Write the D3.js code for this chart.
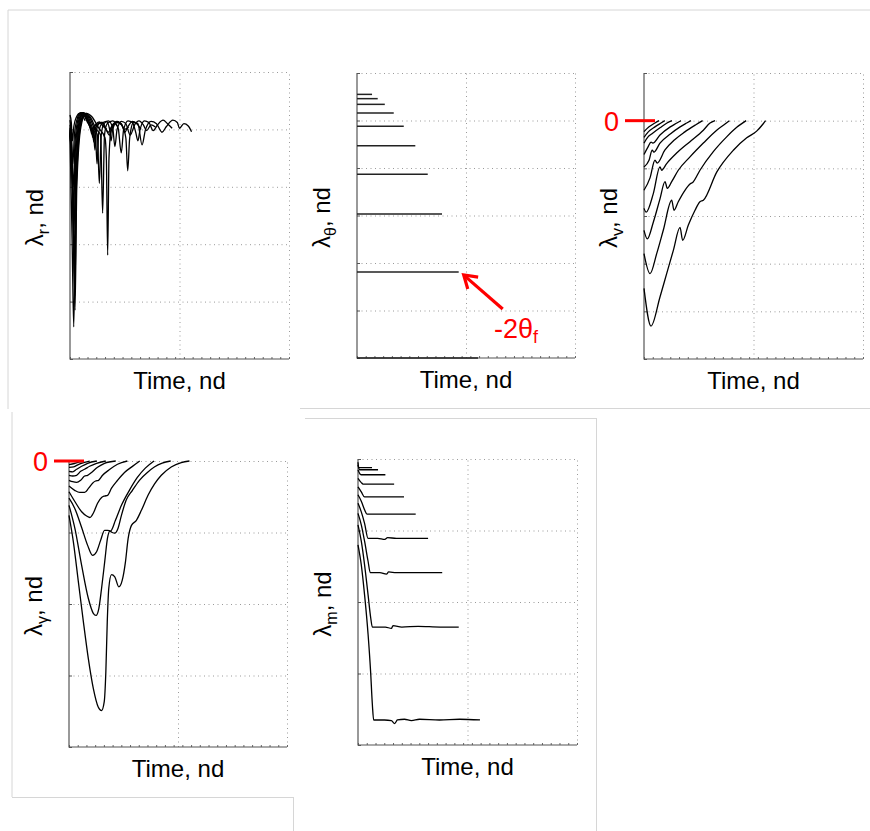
<!DOCTYPE html>
<html><head><meta charset="utf-8">
<script src="https://cdn.jsdelivr.net/npm/d3@7"></script>
<style>
body{margin:0;background:#fff;}
svg{display:block;}
text{font-family:"Liberation Sans",Arial,Helvetica,sans-serif;}
</style>
</head><body>
<svg id="chart" width="870" height="831"></svg>
<script>
// ---------------- DATA ----------------
const timeDomain = [0, 2];
const timeGrid = [1];
const finalTimes = [0.138, 0.19, 0.255, 0.337, 0.429, 0.535, 0.649, 0.78, 0.933, 1.11];

// lambda_r : [t, value]
const lambdaR = [
  [[0,0.25],[0.012,0.12],[0.022,-0.2],[0.035,0.05],[0.06,0.22],[0.085,0.28],[0.11,0.25],[0.138,0.15]],
  [[0,0.16],[0.012,-0.05],[0.026,-0.6],[0.04,-0.1],[0.065,0.18],[0.095,0.29],[0.13,0.24],[0.16,0.12],[0.19,0.04]],
  [[0,0.08],[0.015,-0.3],[0.03,-1.0],[0.045,-0.25],[0.07,0.15],[0.105,0.29],[0.14,0.22],[0.175,0.08],[0.19,-0.02],[0.198,-0.08],[0.206,-0.02],[0.23,0.08],[0.255,0.05]],
  [[0,0.03],[0.017,-0.5],[0.033,-1.4],[0.048,-0.4],[0.075,0.12],[0.115,0.29],[0.15,0.2],[0.18,0.05],[0.198,-0.03],[0.208,-0.14],[0.218,-0.02],[0.24,0.1],[0.27,0.13],[0.3,0.06],[0.337,0.0]],
  [[0,0.0],[0.018,-0.6],[0.036,-1.8],[0.052,-0.5],[0.08,0.1],[0.12,0.29],[0.155,0.2],[0.19,0.02],[0.205,-0.04],[0.218,-0.22],[0.23,-0.03],[0.255,0.1],[0.29,0.12],[0.32,0.03],[0.35,-0.05],[0.38,0.05],[0.41,0.1],[0.429,0.06]],
  [[0,-0.02],[0.02,-0.8],[0.04,-2.2],[0.055,-0.7],[0.085,0.08],[0.125,0.29],[0.165,0.18],[0.2,0.0],[0.215,-0.06],[0.228,-0.36],[0.24,-0.04],[0.265,0.1],[0.3,0.12],[0.33,0.0],[0.36,-0.1],[0.39,0.05],[0.43,0.12],[0.47,0.08],[0.5,0.0],[0.535,0.04]],
  [[0,-0.04],[0.022,-0.9],[0.042,-2.6],[0.058,-0.8],[0.09,0.05],[0.13,0.28],[0.17,0.2],[0.21,0.0],[0.232,-0.08],[0.247,-0.6],[0.262,-0.06],[0.29,0.1],[0.33,0.14],[0.36,0.02],[0.375,-0.2],[0.39,0.0],[0.43,0.13],[0.47,0.1],[0.5,-0.05],[0.53,0.05],[0.57,0.14],[0.61,0.1],[0.649,0.0]],
  [[0,-0.06],[0.024,-1.0],[0.044,-2.9],[0.06,-0.9],[0.095,0.05],[0.14,0.28],[0.18,0.2],[0.225,0.0],[0.25,-0.1],[0.268,-0.94],[0.285,-0.1],[0.31,0.1],[0.35,0.15],[0.39,0.03],[0.41,-0.3],[0.43,0.0],[0.47,0.14],[0.51,0.1],[0.55,-0.1],[0.59,0.08],[0.63,0.15],[0.67,0.08],[0.7,-0.02],[0.74,0.08],[0.78,0.04]],
  [[0,-0.08],[0.026,-1.2],[0.046,-3.15],[0.062,-1.0],[0.1,0.05],[0.145,0.28],[0.19,0.2],[0.24,0.0],[0.28,-0.1],[0.298,-1.46],[0.315,-0.1],[0.34,0.1],[0.39,0.15],[0.44,0.02],[0.468,-0.41],[0.49,0.0],[0.53,0.15],[0.57,0.12],[0.6,-0.05],[0.62,-0.2],[0.64,0.0],[0.68,0.15],[0.72,0.12],[0.76,-0.02],[0.8,0.08],[0.85,0.16],[0.89,0.1],[0.933,0.02]],
  [[0,-0.1],[0.02,-2.0],[0.034,-3.44],[0.05,-1.6],[0.08,0.05],[0.15,0.28],[0.2,0.22],[0.26,0.03],[0.32,-0.15],[0.332,-0.5],[0.344,-2.19],[0.356,-0.5],[0.38,0.05],[0.43,0.14],[0.48,0.05],[0.51,-0.15],[0.527,-0.72],[0.545,-0.15],[0.58,0.12],[0.62,0.1],[0.658,-0.27],[0.69,0.0],[0.74,0.14],[0.79,0.1],[0.84,-0.05],[0.88,0.05],[0.94,0.16],[0.98,0.12],[1.0,0.02],[1.04,0.1],[1.08,0.06],[1.11,-0.04]]
];

// lambda_theta : constant level for each final time
const lambdaThetaLevels = [-0.45, -0.54, -0.66, -0.84, -1.12, -1.53, -2.13, -2.97, -4.19, -6.0];

// lambda_v
const lambdaV = [
  [[0,-0.23],[0.046,-0.13],[0.1,-0.05],[0.138,0]],
  [[0,-0.35],[0.037,-0.24],[0.1,-0.13],[0.155,-0.05],[0.19,0]],
  [[0,-0.47],[0.037,-0.34],[0.07,-0.28],[0.146,-0.15],[0.21,-0.05],[0.255,0]],
  [[0,-0.71],[0.037,-0.55],[0.064,-0.45],[0.08,-0.47],[0.146,-0.30],[0.24,-0.13],[0.30,-0.05],[0.337,0]],
  [[0,-0.97],[0.046,-0.83],[0.075,-0.62],[0.09,-0.66],[0.146,-0.47],[0.24,-0.28],[0.33,-0.13],[0.39,-0.05],[0.429,0]],
  [[0,-1.46],[0.055,-1.2],[0.1,-0.83],[0.12,-0.89],[0.19,-0.62],[0.28,-0.40],[0.37,-0.24],[0.47,-0.09],[0.535,0]],
  [[0,-1.84],[0.02,-1.92],[0.085,-1.53],[0.146,-0.97],[0.161,-1.04],[0.207,-0.90],[0.298,-0.68],[0.42,-0.44],[0.542,-0.20],[0.603,-0.05],[0.649,0]],
  [[0,-2.30],[0.03,-2.48],[0.085,-2.13],[0.146,-1.64],[0.192,-1.28],[0.213,-1.42],[0.253,-1.28],[0.313,-1.04],[0.42,-0.76],[0.542,-0.47],[0.664,-0.20],[0.74,-0.07],[0.78,0]],
  [[0,-2.79],[0.055,-3.21],[0.116,-2.79],[0.176,-2.30],[0.253,-1.67],[0.274,-1.88],[0.313,-1.70],[0.374,-1.46],[0.42,-1.33],[0.447,-1.29],[0.511,-1.04],[0.633,-0.65],[0.755,-0.34],[0.847,-0.14],[0.933,0]],
  [[0,-3.52],[0.064,-4.31],[0.146,-3.70],[0.207,-3.21],[0.268,-2.72],[0.329,-2.24],[0.353,-2.51],[0.405,-2.19],[0.466,-1.88],[0.511,-1.70],[0.542,-1.67],[0.664,-1.08],[0.816,-0.62],[0.938,-0.36],[1.029,-0.22],[1.087,-0.07],[1.11,0]]
];

// lambda_gamma
const lambdaGamma = [
  [[0,-0.05],[0.05,-0.035],[0.1,-0.012],[0.138,0]],
  [[0,-0.088],[0.043,-0.081],[0.089,-0.046],[0.143,-0.018],[0.19,0]],
  [[0,-0.144],[0.034,-0.151],[0.07,-0.116],[0.116,-0.074],[0.171,-0.032],[0.255,0]],
  [[0,-0.20],[0.034,-0.21],[0.07,-0.20],[0.107,-0.144],[0.143,-0.116],[0.189,-0.074],[0.253,-0.032],[0.337,0]],
  [[0,-0.27],[0.034,-0.29],[0.07,-0.30],[0.107,-0.27],[0.143,-0.21],[0.171,-0.20],[0.207,-0.16],[0.262,-0.088],[0.326,-0.032],[0.429,0]],
  [[0,-0.35],[0.052,-0.41],[0.098,-0.44],[0.143,-0.44],[0.18,-0.38],[0.216,-0.31],[0.244,-0.28],[0.271,-0.27],[0.308,-0.20],[0.372,-0.12],[0.445,-0.046],[0.535,0]],
  [[0,-0.43],[0.055,-0.57],[0.116,-0.71],[0.162,-0.77],[0.192,-0.79],[0.226,-0.72],[0.262,-0.59],[0.299,-0.51],[0.326,-0.49],[0.354,-0.48],[0.39,-0.38],[0.445,-0.27],[0.509,-0.16],[0.582,-0.075],[0.649,0]],
  [[0,-0.52],[0.052,-0.66],[0.116,-0.93],[0.171,-1.18],[0.216,-1.32],[0.253,-1.27],[0.29,-1.11],[0.326,-0.97],[0.354,-0.97],[0.381,-0.98],[0.426,-0.83],[0.481,-0.62],[0.554,-0.41],[0.627,-0.23],[0.7,-0.10],[0.78,0]],
  [[0,-0.62],[0.055,-0.95],[0.116,-1.46],[0.177,-1.92],[0.223,-2.13],[0.248,-2.16],[0.274,-2.06],[0.299,-1.78],[0.329,-1.39],[0.353,-1.08],[0.374,-0.98],[0.396,-1.00],[0.42,-1.01],[0.45,-0.94],[0.481,-0.76],[0.524,-0.55],[0.582,-0.41],[0.646,-0.27],[0.719,-0.16],[0.783,-0.084],[0.855,-0.03],[0.933,0]],
  [[0,-0.76],[0.04,-1.13],[0.086,-1.69],[0.132,-2.25],[0.177,-2.76],[0.223,-3.18],[0.268,-3.44],[0.299,-3.49],[0.323,-3.37],[0.338,-2.95],[0.351,-2.25],[0.365,-1.78],[0.39,-1.59],[0.42,-1.62],[0.457,-1.76],[0.488,-1.67],[0.518,-1.41],[0.542,-1.09],[0.573,-0.90],[0.618,-0.83],[0.664,-0.69],[0.725,-0.48],[0.785,-0.32],[0.847,-0.20],[0.938,-0.084],[1.03,-0.022],[1.105,0]]
];

// lambda_m
const lambdaM = [
  [[0,-0.046],[0.006,-0.12],[0.128,-0.12]],
  [[0,-0.084],[0.015,-0.15],[0.183,-0.15]],
  [[0,-0.155],[0.021,-0.215],[0.03,-0.22],[0.25,-0.22]],
  [[0,-0.27],[0.03,-0.33],[0.046,-0.35],[0.33,-0.35]],
  [[0,-0.39],[0.03,-0.46],[0.06,-0.53],[0.2,-0.53],[0.42,-0.53]],
  [[0,-0.50],[0.03,-0.59],[0.06,-0.71],[0.082,-0.77],[0.25,-0.77],[0.527,-0.77]],
  [[0,-0.62],[0.03,-0.74],[0.06,-0.90],[0.092,-1.11],[0.18,-1.11],[0.245,-1.125],[0.27,-1.10],[0.35,-1.11],[0.64,-1.11]],
  [[0,-0.76],[0.03,-0.92],[0.06,-1.15],[0.092,-1.43],[0.112,-1.59],[0.2,-1.59],[0.26,-1.61],[0.28,-1.58],[0.35,-1.59],[0.55,-1.59],[0.769,-1.59]],
  [[0,-0.92],[0.03,-1.15],[0.06,-1.48],[0.092,-1.90],[0.116,-2.22],[0.131,-2.35],[0.25,-2.35],[0.305,-2.37],[0.32,-2.33],[0.4,-2.35],[0.55,-2.34],[0.75,-2.35],[0.92,-2.35]],
  [[0,-1.20],[0.03,-1.48],[0.06,-1.90],[0.092,-2.45],[0.115,-2.97],[0.131,-3.43],[0.143,-3.65],[0.241,-3.65],[0.305,-3.66],[0.335,-3.70],[0.36,-3.65],[0.424,-3.64],[0.488,-3.66],[0.561,-3.64],[0.744,-3.65],[0.928,-3.64],[1.114,-3.65]]
];

// axis labels
const xLabel = "Time, nd";
const yLabelSubs = ["r", "θ", "v", "γ", "m"];

// ---------------- DRAW ----------------
const svg = d3.select("#chart");

// faint frame lines of the composed figure
const frame = svg.append("g").attr("stroke", "#d6d6d6").attr("stroke-width", 1).attr("fill", "none");
[[8,10,870,10],[8,10,8,409],[300,408.5,870,408.5],
 [12,412,12,797],[12,797.5,293,797.5],[293.5,797,293.5,831],
 [305,418.5,596,418.5],[596.5,418,596.5,831]].forEach(s=>{
  frame.append("line").attr("x1",s[0]).attr("y1",s[1]).attr("x2",s[2]).attr("y2",s[3]);
});

function drawPanel(cfg){
  const g = svg.append("g");
  const x = d3.scaleLinear().domain(timeDomain).range([cfg.l, cfg.r]);
  const y = d3.scaleLinear().domain(cfg.yDomain).range([cfg.b, cfg.t]);
  const w = cfg.r - cfg.l, h = cfg.b - cfg.t;
  const yTicks = d3.range(cfg.yDomain[0], cfg.yDomain[1] + 0.001, 1);

  // dotted grid (incl. top and right borders)
  g.append("g").attr("transform", `translate(0,${cfg.b})`)
    .call(d3.axisBottom(x).tickValues(timeGrid.concat([timeDomain[1]])).tickSize(-h).tickFormat("").tickSizeOuter(0))
    .call(s=>s.select(".domain").remove())
    .call(s=>s.selectAll("line").attr("stroke","#9a9a9a").attr("stroke-dasharray","1,3.5"));
  g.append("g").attr("transform", `translate(${cfg.l},0)`)
    .call(d3.axisLeft(y).tickValues(yTicks.slice(1)).tickSize(-w).tickFormat("").tickSizeOuter(0))
    .call(s=>s.select(".domain").remove())
    .call(s=>s.selectAll("line").attr("stroke","#9a9a9a").attr("stroke-dasharray","1,3.5"));

  // minor ticks on bottom & major ticks on left
  const minorX = d3.range(timeDomain[0], timeDomain[1] + 0.0001, 0.08);
  g.append("g").attr("transform", `translate(0,${cfg.b})`)
    .call(d3.axisBottom(x).tickValues(minorX).tickSize(-2).tickFormat("").tickSizeOuter(0))
    .call(s=>s.select(".domain").remove())
    .call(s=>s.selectAll("line").attr("stroke","#666"));
  g.append("g").attr("transform", `translate(${cfg.l},0)`)
    .call(d3.axisLeft(y).tickValues(yTicks).tickSize(-3).tickFormat("").tickSizeOuter(0))
    .call(s=>s.select(".domain").remove())
    .call(s=>s.selectAll("line").attr("stroke","#555"));

  // solid axis lines
  g.append("line").attr("x1",cfg.l).attr("x2",cfg.l).attr("y1",cfg.t).attr("y2",cfg.b+0.5).attr("stroke","#555").attr("stroke-width",1.2);
  g.append("line").attr("x1",cfg.l).attr("x2",cfg.r).attr("y1",cfg.b).attr("y2",cfg.b).attr("stroke","#555").attr("stroke-width",1.2);

  // curves
  const line = d3.line().x(d=>x(d[0])).y(d=>y(d[1])).curve(cfg.curve || d3.curveMonotoneX);
  g.append("g").selectAll("path").data(cfg.series).join("path")
    .attr("d", line).attr("fill","none").attr("stroke", cfg.stroke || "#000")
    .attr("stroke-width", cfg.sw || 1.3).attr("stroke-linejoin","round");

  // x label
  g.append("text").attr("x",(cfg.l+cfg.r)/2).attr("y",cfg.b+30).attr("text-anchor","middle")
    .attr("font-size",24).attr("fill","#000").text(xLabel);

  // y label
  const yl = g.append("text").attr("transform",`translate(${cfg.l-27},${(cfg.t+cfg.b)/2+2}) rotate(-90)`)
    .attr("text-anchor","middle").attr("font-size",24).attr("fill","#000");
  yl.append("tspan").text("λ");
  yl.append("tspan").attr("font-size",16).attr("dy",6).text(cfg.sub);
  yl.append("tspan").attr("dy",-6).text(", nd");

  return {x, y, g};
}

const p1 = drawPanel({l:70, r:289, t:72, b:359, yDomain:[-4,1], series:lambdaR, sub:yLabelSubs[0]});
const p2 = drawPanel({l:357, r:575, t:73, b:358, yDomain:[-6,0], sub:yLabelSubs[1],
  series: finalTimes.map((tf,i)=>[[0,lambdaThetaLevels[i]],[tf,lambdaThetaLevels[i]]]),
  curve:d3.curveLinear, stroke:"#222", sw:1.5});
const p3 = drawPanel({l:644, r:863, t:73, b:359, yDomain:[-5,1], series:lambdaV, sub:yLabelSubs[2]});
const p4 = drawPanel({l:69, r:287, t:461, b:747, yDomain:[-4,0], series:lambdaGamma, sub:yLabelSubs[3]});
const p5 = drawPanel({l:358, r:577, t:459, b:745, yDomain:[-4,0], series:lambdaM, sub:yLabelSubs[4], curve:d3.curveMonotoneX});

// ---------------- RED ANNOTATIONS ----------------
const red = "#ff0000";
{
  const tipX = p2.x(finalTimes[8]) + 5, tipY = p2.y(lambdaThetaLevels[8]) + 3;
  const tailX = tipX + 39, tailY = tipY + 34;
  const ang = Math.atan2(tipY - tailY, tipX - tailX);
  const L = 13, a = Math.PI/5.5;
  p2.g.append("line").attr("x1",tailX).attr("y1",tailY).attr("x2",tipX+2*Math.cos(ang+Math.PI)).attr("y2",tipY+2*Math.sin(ang+Math.PI))
    .attr("stroke",red).attr("stroke-width",3.2);
  p2.g.append("path")
    .attr("d",`M${tipX - L*Math.cos(ang - a)},${tipY - L*Math.sin(ang - a)} L${tipX},${tipY} L${tipX - L*Math.cos(ang + a)},${tipY - L*Math.sin(ang + a)}`)
    .attr("fill","none").attr("stroke",red).attr("stroke-width",3.2).attr("stroke-linecap","square");
  const t = p2.g.append("text").attr("x",494).attr("y",338).attr("font-size",27).attr("fill",red);
  t.append("tspan").text("-2θ");
  t.append("tspan").attr("font-size",18).attr("dy",5).text("f");
}
// zero markers
p3.g.append("line").attr("x1",625).attr("x2",655).attr("y1",p3.y(0)).attr("y2",p3.y(0)).attr("stroke",red).attr("stroke-width",3);
p3.g.append("text").attr("x",619).attr("y",p3.y(0)+10).attr("text-anchor","end").attr("font-size",27).attr("fill",red).text("0");
p4.g.append("line").attr("x1",54).attr("x2",84).attr("y1",p4.y(0)).attr("y2",p4.y(0)).attr("stroke",red).attr("stroke-width",3);
p4.g.append("text").attr("x",48).attr("y",p4.y(0)+10).attr("text-anchor","end").attr("font-size",27).attr("fill",red).text("0");
</script>
</body></html>
